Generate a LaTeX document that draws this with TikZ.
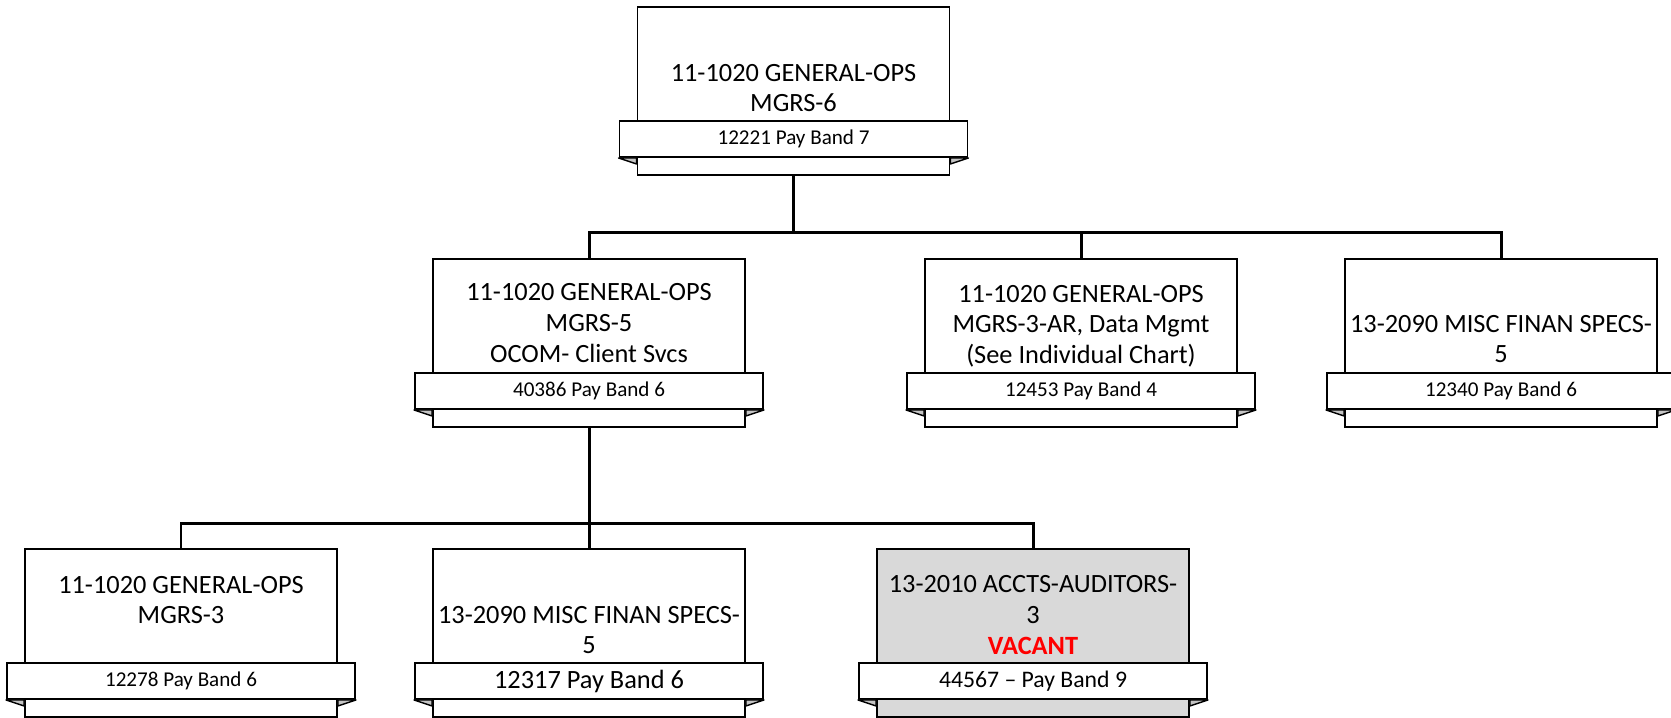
\documentclass[tikz,border=0pt]{standalone}
\usepackage{fontspec}
\setmainfont{Carlito}
\usepackage{tikz}
\usetikzlibrary{positioning, calc}
\usepackage{xcolor}
\definecolor{vacantgray}{HTML}{D9D9D9}
\definecolor{foldgray}{HTML}{C4C4C4}
\tikzstyle{jobbox}  = [rectangle, draw=black, line width=1.1pt, fill=white,
                       minimum width=6.24cm, minimum height=3.36cm, inner sep=0pt]
\tikzstyle{jobtext} = [align=center, inner sep=0pt, font=\fontsize{15}{17.4}\selectfont]
\tikzstyle{ribbon}  = [rectangle, draw=black, line width=1.1pt, fill=white,
                       minimum width=6.96cm, minimum height=0.72cm, inner sep=0pt,
                       font=\fontsize{12}{14}\selectfont]
\tikzstyle{fold}    = [draw=black, line width=0.8pt, fill=foldgray, line join=round]
\tikzstyle{conn}    = [line width=1.7pt]

\begin{document}
\begin{tikzpicture}
  \useasboundingbox (0,0) rectangle (33.42,-14.34);

  % --- Top level ---
  \node (top) [jobbox] at (15.87,-1.82) {};
  \node (top-t) [jobtext] at ($(top.north)+(0,-1.64)$) {11-1020 GENERAL-OPS\\MGRS-6};
  \node (top-rib) [ribbon, above=0.36cm of top.south] {12221 Pay Band 7};

  % --- Middle row ---
  \node (m1) [jobbox] at (11.78,-6.86) {};
  \node (m1-t) [jobtext] at ($(m1.north)+(0,-1.30)$) {11-1020 GENERAL-OPS\\MGRS-5\\OCOM- Client Svcs};
  \node (m1-rib) [ribbon, above=0.36cm of m1.south] {40386 Pay Band 6};

  \node (m2) [jobbox] at (21.62,-6.86) {};
  \node (m2-t) [jobtext] at ($(m2.north)+(0,-1.36)$) {11-1020 GENERAL-OPS\\MGRS-3-AR, Data Mgmt\\(See Individual Chart)};
  \node (m2-rib) [ribbon, above=0.36cm of m2.south] {12453 Pay Band 4};

  \node (m3) [jobbox] at (30.02,-6.86) {};
  \node (m3-t) [jobtext] at ($(m3.north)+(0,-1.62)$) {13-2090 MISC FINAN SPECS-\\5};
  \node (m3-rib) [ribbon, above=0.36cm of m3.south] {12340 Pay Band 6};

  % --- Bottom row ---
  \node (b1) [jobbox] at (3.62,-12.66) {};
  \node (b1-t) [jobtext] at ($(b1.north)+(0,-1.04)$) {11-1020 GENERAL-OPS\\MGRS-3};
  \node (b1-rib) [ribbon, above=0.36cm of b1.south] {12278 Pay Band 6};

  \node (b2) [jobbox] at (11.78,-12.66) {};
  \node (b2-t) [jobtext] at ($(b2.north)+(0,-1.64)$) {13-2090 MISC FINAN SPECS-\\5};
  \node (b2-rib) [ribbon, above=0.36cm of b2.south, font=\fontsize{15}{17}\selectfont] {12317 Pay Band 6};

  \node (b3) [jobbox, fill=vacantgray] at (20.66,-12.66) {};
  \node (b3-t) [jobtext] at ($(b3.north)+(0,-1.34)$) {13-2010 ACCTS-AUDITORS-\\3\\{\bfseries\color{red}VACANT}};
  \node (b3-rib) [ribbon, above=0.36cm of b3.south, font=\fontsize{13.5}{16}\selectfont] {44567 -- Pay Band 9};

  % ribbon folds
  \foreach \b in {top,m1,m2,m3,b1,b2,b3} {
    \filldraw[fold] (\b-rib.south west) -- (\b-rib.south west -| \b.west) -- ++(0,-0.12) -- cycle;
    \filldraw[fold] (\b-rib.south east) -- (\b-rib.south east -| \b.east) -- ++(0,-0.12) -- cycle;
  }

  % Connectors
  \coordinate (bus1) at ($(top.south)+(0,-1.14)$);
  \coordinate (bus2) at ($(m1.south)+(0,-1.92)$);
  \draw[conn] (top.south) -- (bus1);
  \draw[conn] (bus1) -| (m1.north);
  \draw[conn] (bus1) -| (m2.north);
  \draw[conn] (bus1) -| (m3.north);
  \draw[conn] (m1.south) -- (bus2);
  \draw[conn] (bus2) -| (b1.north);
  \draw[conn] (bus2) -| (b2.north);
  \draw[conn] (bus2) -| (b3.north);

\end{tikzpicture}
\end{document}
